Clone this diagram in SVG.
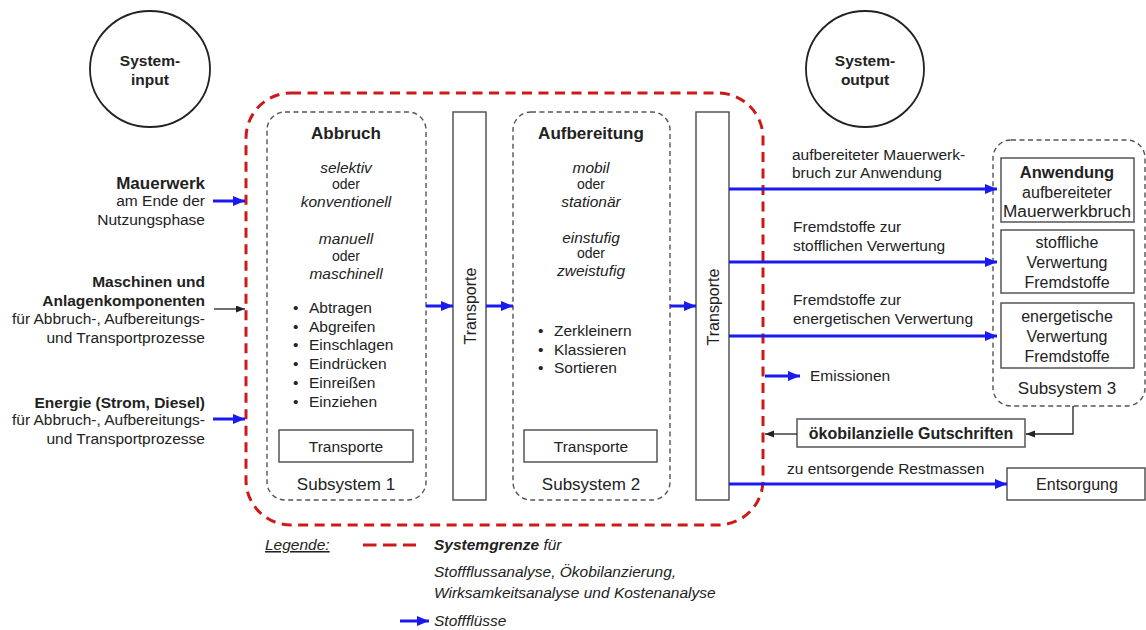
<svg xmlns="http://www.w3.org/2000/svg" width="1146" height="630" viewBox="0 0 1146 630">
<defs>
<style>
text{font-family:"Liberation Sans",Arial,sans-serif;fill:#222;font-size:15.5px}
.b{font-weight:bold}
.i{font-style:italic}
.m{text-anchor:middle}
.e{text-anchor:end}
.sm{font-size:14px}
.t{font-size:17px;font-weight:bold}
.r{font-size:16px}
.box{fill:#fff;stroke:#555;stroke-width:1.5}
.dbox{fill:none;stroke:#555;stroke-width:1.4;stroke-dasharray:5 3.5}
.circ{fill:#fff;stroke:#222;stroke-width:1.8}
.red{fill:none;stroke:#cc1a1a;stroke-width:3;stroke-dasharray:10 6.5}
.blue{stroke:#1a1aee;stroke-width:3;fill:none}
.blk{stroke:#222;stroke-width:1.3;fill:none}
</style>
<marker id="ab" markerUnits="userSpaceOnUse" markerWidth="14" markerHeight="12" refX="12" refY="5" orient="auto">
<path d="M0,0 L12,5 L0,10 Z" fill="#1a1aee"/>
</marker>
<marker id="ak" markerUnits="userSpaceOnUse" markerWidth="10" markerHeight="8" refX="9" refY="3.5" orient="auto">
<path d="M0,0 L9,3.5 L0,7 Z" fill="#222"/>
</marker>
</defs>
<rect width="1146" height="630" fill="#fff"/>

<g id="system-input">
<ellipse class="circ" cx="150" cy="69" rx="60" ry="58"/>
<text class="b m" x="150" y="66" style="font-size:15.5px">System-</text>
<text class="b m" x="150" y="85" style="font-size:15.5px">input</text>
</g>
<g id="system-output">
<ellipse class="circ" cx="865" cy="69" rx="59" ry="58"/>
<text class="b m" x="865" y="66" style="font-size:15.5px">System-</text>
<text class="b m" x="865" y="85" style="font-size:15.5px">output</text>
</g>

<g id="systemgrenze">
<rect class="red" x="246" y="93" width="517" height="432" rx="45" ry="45"/>
</g>

<g id="input-mauerwerk">
<text class="e" x="205" y="189" style="font-size:17px;font-weight:bold">Mauerwerk</text>
<text class="e" x="205" y="206">am Ende der</text>
<text class="e" x="205" y="225">Nutzungsphase</text>
</g>
<g id="input-maschinen">
<text class="b e" x="205" y="287" style="font-size:15.5px">Maschinen und</text>
<text class="b e" x="205" y="306" style="font-size:15.5px">Anlagenkomponenten</text>
<text class="e" x="205" y="324">für Abbruch-, Aufbereitungs-</text>
<text class="e" x="205" y="343">und Transportprozesse</text>
</g>
<g id="input-energie">
<text class="b e" x="205" y="408" style="font-size:15.5px">Energie (Strom, Diesel)</text>
<text class="e" x="205" y="425">für Abbruch-, Aufbereitungs-</text>
<text class="e" x="205" y="444">und Transportprozesse</text>
</g>

<g id="subsystem1">
<rect class="dbox" x="267" y="112" width="159" height="388" rx="18" ry="18"/>
<text class="t m" x="346" y="139">Abbruch</text>
<text class="i m" x="346" y="173">selektiv</text>
<text class="m sm" x="346" y="189">oder</text>
<text class="i m" x="346" y="207">konventionell</text>
<text class="i m" x="346" y="244">manuell</text>
<text class="m sm" x="346" y="261">oder</text>
<text class="i m" x="346" y="279">maschinell</text>
<text x="293" y="313">•</text><text x="309" y="313">Abtragen</text>
<text x="293" y="332">•</text><text x="309" y="332">Abgreifen</text>
<text x="293" y="350">•</text><text x="309" y="350">Einschlagen</text>
<text x="293" y="369">•</text><text x="309" y="369">Eindrücken</text>
<text x="293" y="388">•</text><text x="309" y="388">Einreißen</text>
<text x="293" y="407">•</text><text x="309" y="407">Einziehen</text>
<rect class="box" x="279" y="430" width="134" height="32"/>
<text class="m" x="346" y="452">Transporte</text>
<text class="m" x="346" y="490" style="font-size:17px">Subsystem 1</text>
</g>

<g id="transport-bar1">
<rect class="box" x="453" y="112" width="33" height="388"/>
<text class="m" transform="translate(476,306) rotate(-90)" style="font-size:16px">Transporte</text>
</g>

<g id="subsystem2">
<rect class="dbox" x="513" y="112" width="157" height="388" rx="18" ry="18"/>
<text class="t m" x="591" y="139">Aufbereitung</text>
<text class="i m" x="591" y="173">mobil</text>
<text class="m sm" x="591" y="189">oder</text>
<text class="i m" x="591" y="207">stationär</text>
<text class="i m" x="591" y="243">einstufig</text>
<text class="m sm" x="591" y="258">oder</text>
<text class="i m" x="591" y="276">zweistufig</text>
<text x="538" y="336">•</text><text x="554" y="336">Zerkleinern</text>
<text x="538" y="355">•</text><text x="554" y="355">Klassieren</text>
<text x="538" y="373">•</text><text x="554" y="373">Sortieren</text>
<rect class="box" x="524" y="430" width="133" height="32"/>
<text class="m" x="591" y="452">Transporte</text>
<text class="m" x="591" y="490" style="font-size:17px">Subsystem 2</text>
</g>

<g id="transport-bar2">
<rect class="box" x="696" y="112" width="33" height="388"/>
<text class="m" transform="translate(719,307) rotate(-90)" style="font-size:16px">Transporte</text>
</g>

<g id="subsystem3">
<rect class="dbox" x="993" y="140" width="152" height="266" rx="18" ry="18"/>
<rect class="box" x="1001" y="158" width="133" height="64"/>
<text class="m" x="1067" y="178" style="font-size:16.5px;font-weight:bold">Anwendung</text>
<text class="m r" x="1067" y="198">aufbereiteter</text>
<text class="m r" x="1067" y="217" textLength="128" lengthAdjust="spacingAndGlyphs">Mauerwerkbruch</text>
<rect class="box" x="1001" y="230" width="133" height="63"/>
<text class="m r" x="1067" y="248">stoffliche</text>
<text class="m r" x="1067" y="268">Verwertung</text>
<text class="m r" x="1067" y="288">Fremdstoffe</text>
<rect class="box" x="1001" y="303" width="133" height="65"/>
<text class="m r" x="1067" y="322">energetische</text>
<text class="m r" x="1067" y="342">Verwertung</text>
<text class="m r" x="1067" y="362">Fremdstoffe</text>
<text class="m" x="1067" y="394" style="font-size:17px">Subsystem 3</text>
</g>

<g id="gutschriften">
<rect class="box" x="797" y="419" width="228" height="28"/>
<text class="b m" x="911" y="439" style="font-size:16px">ökobilanzielle Gutschriften</text>
</g>

<g id="entsorgung">
<rect class="box" x="1007" y="468" width="138" height="32"/>
<text class="m r" x="1077" y="490">Entsorgung</text>
</g>

<g id="connectors">
<line class="blue" x1="213" y1="201" x2="245" y2="201" marker-end="url(#ab)"/>
<line class="blk" x1="214" y1="309" x2="245" y2="309" marker-end="url(#ak)"/>
<line class="blue" x1="213" y1="419" x2="245" y2="419" marker-end="url(#ab)"/>
<line class="blue" x1="426" y1="306" x2="453" y2="306" marker-end="url(#ab)"/>
<line class="blue" x1="486" y1="306" x2="513" y2="306" marker-end="url(#ab)"/>
<line class="blue" x1="670" y1="306" x2="696" y2="306" marker-end="url(#ab)"/>
<line class="blue" x1="729" y1="189" x2="997" y2="189" marker-end="url(#ab)"/>
<line class="blue" x1="729" y1="262" x2="997" y2="262" marker-end="url(#ab)"/>
<line class="blue" x1="729" y1="336" x2="997" y2="336" marker-end="url(#ab)"/>
<line class="blue" x1="765" y1="376" x2="800" y2="376" marker-end="url(#ab)"/>
<line class="blue" x1="729" y1="484" x2="1007" y2="484" marker-end="url(#ab)"/>
<polyline class="blk" points="1073,406 1073,434 1026,434" marker-end="url(#ak)"/>
<line class="blk" x1="797" y1="434" x2="765" y2="434" marker-end="url(#ak)"/>
</g>

<g id="flow-labels">
<text x="792" y="160">aufbereiteter Mauerwerk-</text>
<text x="792" y="178">bruch zur Anwendung</text>
<text x="793" y="232">Fremdstoffe zur</text>
<text x="793" y="251">stofflichen Verwertung</text>
<text x="793" y="305">Fremdstoffe zur</text>
<text x="793" y="324">energetischen Verwertung</text>
<text x="810" y="381">Emissionen</text>
<text x="787" y="474">zu entsorgende Restmassen</text>
</g>

<g id="legende">
<text class="i" x="265" y="550" text-decoration="underline">Legende:</text>
<line x1="363" y1="545" x2="416" y2="545" stroke="#cc1a1a" stroke-width="3" stroke-dasharray="13.5 6.5"/>
<text class="i" x="434" y="550"><tspan font-weight="bold">Systemgrenze</tspan> für</text>
<text class="i" x="434" y="577">Stoffflussanalyse, Ökobilanzierung,</text>
<text class="i" x="434" y="598">Wirksamkeitsanalyse und Kostenanalyse</text>
<line class="blue" x1="400" y1="621" x2="429" y2="621" marker-end="url(#ab)"/>
<text class="i" x="434" y="626">Stoffflüsse</text>
</g>
</svg>
